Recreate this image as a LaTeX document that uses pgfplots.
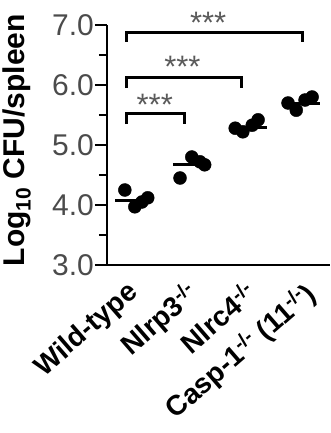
\documentclass[border=0pt]{standalone}
\usepackage{fontspec}
\setmainfont{Liberation Sans}
\usepackage{pgfplots}
\pgfplotsset{compat=1.18}
\definecolor{tickgray}{RGB}{75,75,75}
\definecolor{stargray}{RGB}{90,90,90}
\begin{document}
\begin{tikzpicture}
\begin{axis}[
  scale only axis, width=223pt, height=240pt,
  xmin=-0.324, xmax=3.475, ymin=3, ymax=7,
  axis x line=bottom, axis y line=left,
  axis line style={-, line width=2.6pt, black},
  clip=false,
  ytick={3,4,5,6,7},
  minor ytick={3.5,4.5,5.5,6.5},
  tick align=outside,
  major tick length=12pt, minor tick length=8pt,
  tick style={black, line width=2pt},
  x tick style={draw=none},
  yticklabel style={font=\fontsize{30}{36}\selectfont, text=tickgray, inner sep=1pt,
    /pgf/number format/.cd, fixed, fixed zerofill, precision=1, assume math mode=true},
  xtick={0,1,2,3},
  xticklabels={Wild-type, Nlrp3\textsuperscript{-/-}, Nlrc4\textsuperscript{-/-}, Casp-1\textsuperscript{-/-} (11\textsuperscript{-/-})},
  xticklabel style={rotate=41, anchor=north east, inner sep=1.5pt, font=\fontsize{28}{33}\selectfont\bfseries},
  ylabel={Log\textsubscript{10} CFU/spleen},
  ylabel style={font=\fontsize{30}{36}\selectfont\bfseries, at={(axis description cs:-0.404,0.52)}, anchor=center},
]
% individual points
\addplot[only marks, mark=*, mark size=6.5pt, black] coordinates {
  (-0.02,4.25) (0.15,3.97) (0.27,4.05) (0.37,4.12)
  (0.92,4.45) (1.12,4.80) (1.26,4.72) (1.34,4.67)
  (1.86,5.28) (1.99,5.22) (2.15,5.33) (2.25,5.42)
  (2.76,5.70) (2.90,5.58) (3.05,5.75) (3.17,5.80)
};
% mean lines
\addplot[black, line width=3pt] coordinates {(-0.18,4.08) (0.45,4.08)};
\addplot[black, line width=3pt] coordinates {(0.80,4.68) (1.43,4.68)};
\addplot[black, line width=3pt] coordinates {(1.82,5.30) (2.40,5.30)};
\addplot[black, line width=3pt] coordinates {(2.79,5.70) (3.30,5.70)};
% significance brackets
\addplot[black, line width=3pt, line join=miter] coordinates {(0,5.35) (0,5.53) (1,5.53) (1,5.35)};
\addplot[black, line width=3pt, line join=miter] coordinates {(0,5.95) (0,6.13) (1.97,6.13) (1.97,5.95)};
\addplot[black, line width=3pt, line join=miter] coordinates {(0,6.72) (0,6.88) (3,6.88) (3,6.72)};
\node[anchor=base, text=stargray, font=\fontsize{31}{36}\selectfont, inner sep=0pt] at (axis cs:0.49,5.49) {***};
\node[anchor=base, text=stargray, font=\fontsize{31}{36}\selectfont, inner sep=0pt] at (axis cs:0.96,6.12) {***};
\node[anchor=base, text=stargray, font=\fontsize{31}{36}\selectfont, inner sep=0pt] at (axis cs:1.40,6.86) {***};
\end{axis}
\pgfresetboundingbox
\path[use as bounding box] (-107pt,-168pt) rectangle (223pt,265pt);
\end{tikzpicture}
\end{document}
